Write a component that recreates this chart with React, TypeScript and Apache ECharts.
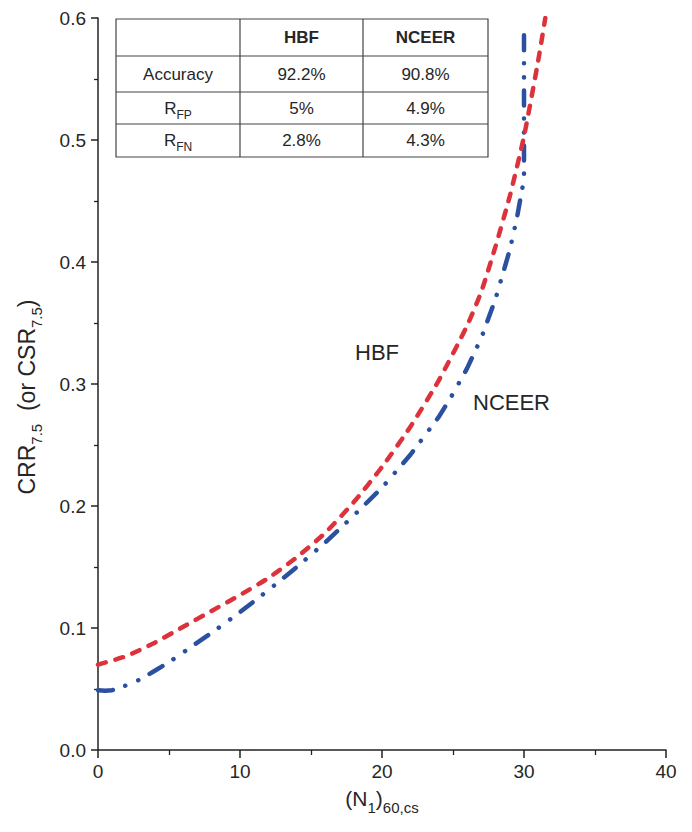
import React, { useEffect, useRef } from "react";
import * as echarts from "echarts";

// HBF curve (red dashed)
const hbfN = [0, 2, 4, 6, 8, 10, 12, 14, 16, 18, 20, 22, 24, 26, 27, 28, 29, 30, 31, 31.5];
const hbfCRR = [0.07, 0.077, 0.088, 0.101, 0.114, 0.127, 0.141, 0.158, 0.178, 0.203, 0.232, 0.265, 0.303, 0.348, 0.376, 0.413, 0.454, 0.503, 0.565, 0.6];

// NCEER curve (blue dash-dot-dot)
const nceerN = [0, 0.5, 1, 2, 3, 4, 5, 6, 8, 10, 12, 14, 16, 18, 20, 22, 24, 25, 26, 27, 28, 29, 29.5, 30, 30];
const nceerCRR = [0.049, 0.0486, 0.049, 0.053, 0.058, 0.065, 0.072, 0.08, 0.096, 0.113, 0.131, 0.15, 0.17, 0.192, 0.215, 0.242, 0.273, 0.292, 0.313, 0.338, 0.37, 0.41, 0.436, 0.468, 0.588];

// Table
const tableHeaders = ["", "HBF", "NCEER"];
const rowLabelMain = ["Accuracy", "R", "R"];
const rowLabelSub = ["", "FP", "FN"];
const hbfStats = ["92.2%", "5%", "2.8%"];
const nceerStats = ["90.8%", "4.9%", "4.3%"];

const FONT = "Liberation Sans, Arial, sans-serif";
const TXT = "#262626";
const RED = "#dc323c";
const BLUE = "#2b50a0";

export default function App() {
  const ref = useRef<HTMLDivElement>(null);
  useEffect(() => {
    document.body.style.margin = "0";
    if (!ref.current) return;
    const chart = echarts.init(ref.current, null, { renderer: "svg" });

    // table geometry
    const tx = [116, 240, 363, 488];
    const ty = [19, 56, 92, 124, 157];
    const tableEls: any[] = [];
    tableEls.push({
      type: "rect",
      shape: { x: tx[0], y: ty[0], width: tx[3] - tx[0], height: ty[4] - ty[0] },
      style: { fill: "#fff", stroke: "#444", lineWidth: 1.2 },
    });
    for (let i = 1; i < 4; i++) {
      tableEls.push({ type: "line", shape: { x1: tx[0], y1: ty[i], x2: tx[3], y2: ty[i] }, style: { stroke: "#444", lineWidth: 1.2 } });
    }
    for (let j = 1; j < 3; j++) {
      tableEls.push({ type: "line", shape: { x1: tx[j], y1: ty[0], x2: tx[j], y2: ty[4] }, style: { stroke: "#444", lineWidth: 1.2 } });
    }
    const cx = (j: number) => (tx[j] + tx[j + 1]) / 2;
    const cy = (i: number) => (ty[i] + ty[i + 1]) / 2;
    const cellStyle = (text: string, bold = false, rich?: any) => ({
      text,
      fontFamily: FONT,
      fontSize: 17,
      fontWeight: bold ? "bold" : "normal",
      fill: TXT,
      align: "center",
      verticalAlign: "middle",
      rich,
    });
    tableHeaders.forEach((h, j) => {
      if (h) tableEls.push({ type: "text", x: cx(j), y: cy(0), style: cellStyle(h, true) });
    });
    rowLabelMain.forEach((m, i) => {
      const text = rowLabelSub[i] ? `{m|${m}}{s|${rowLabelSub[i]}}` : m;
      tableEls.push({
        type: "text",
        x: cx(0),
        y: cy(i + 1),
        style: cellStyle(text, false, {
          m: { fontSize: 17, fontFamily: FONT, fill: TXT, verticalAlign: "bottom" },
          s: { fontSize: 12, fontFamily: FONT, fill: TXT, verticalAlign: "bottom", padding: [0, 0, -4, 0] },
        }),
      });
      tableEls.push({ type: "text", x: cx(1), y: cy(i + 1), style: cellStyle(hbfStats[i]) });
      tableEls.push({ type: "text", x: cx(2), y: cy(i + 1), style: cellStyle(nceerStats[i]) });
    });

    chart.setOption({
      animation: false,
      grid: { left: 98, right: 26, top: 18, bottom: 82 },
      xAxis: {
        type: "value",
        min: 0,
        max: 40,
        interval: 10,
        name: "{m|(N}{s|1}{m|)}{s|60,cs}",
        nameLocation: "middle",
        nameGap: 38,
        nameTextStyle: {
          rich: {
            m: { fontSize: 21, fontFamily: FONT, color: TXT, verticalAlign: "bottom" },
            s: { fontSize: 15, fontFamily: FONT, color: TXT, verticalAlign: "bottom", padding: [0, 0, -6, 0] },
          },
        },
        axisLine: { lineStyle: { color: "#222", width: 1.5 } },
        axisTick: { length: 8, lineStyle: { color: "#222", width: 1.5 } },
        minorTick: { show: true, splitNumber: 2, length: 5, lineStyle: { color: "#222", width: 1.3 } },
        splitLine: { show: false },
        axisLabel: { fontSize: 19, fontFamily: FONT, color: TXT, margin: 12 },
      },
      yAxis: {
        type: "value",
        min: 0,
        max: 0.6,
        interval: 0.1,
        name: "{m|CRR}{s|7.5}{m|  (or CSR}{s|7.5}{m|)}",
        nameLocation: "middle",
        nameGap: 60,
        nameRotate: 90,
        nameTextStyle: {
          padding: [0, 26, 0, 0],
          rich: {
            m: { fontSize: 23, fontFamily: FONT, color: TXT, verticalAlign: "bottom" },
            s: { fontSize: 15, fontFamily: FONT, color: TXT, verticalAlign: "bottom", padding: [0, 0, -6, 0] },
          },
        },
        axisLine: { show: true, lineStyle: { color: "#222", width: 1.5 } },
        axisTick: { show: true, length: 7, lineStyle: { color: "#222", width: 1.5 } },
        minorTick: { show: true, splitNumber: 2, length: 4, lineStyle: { color: "#222", width: 1.3 } },
        splitLine: { show: false },
        axisLabel: {
          fontSize: 19,
          fontFamily: FONT,
          color: TXT,
          margin: 12,
          formatter: (v: number) => v.toFixed(1),
        },
      },
      series: [
        {
          name: "HBF",
          type: "line",
          data: hbfN.map((n, i) => [n, hbfCRR[i]]),
          showSymbol: false,
          smooth: 0.2,
          lineStyle: { color: RED, width: 4.5, type: [8, 10], cap: "round" },
          z: 3,
        },
        {
          name: "NCEER",
          type: "line",
          data: nceerN.map((n, i) => [n, nceerCRR[i]]),
          showSymbol: false,
          lineStyle: { color: BLUE, width: 4.5, type: [15, 13, 0.1, 14, 0.1, 13], cap: "round" },
          z: 2,
        },
      ],
      graphic: [
        ...tableEls,
        { type: "text", x: 355, y: 341, style: { text: "HBF", fontSize: 22, fontFamily: FONT, fill: TXT } },
        { type: "text", x: 473, y: 391, style: { text: "NCEER", fontSize: 22, fontFamily: FONT, fill: TXT } },
      ],
    });
    return () => chart.dispose();
  }, []);
  return <div ref={ref} style={{ width: 692, height: 832 }} />;
}
